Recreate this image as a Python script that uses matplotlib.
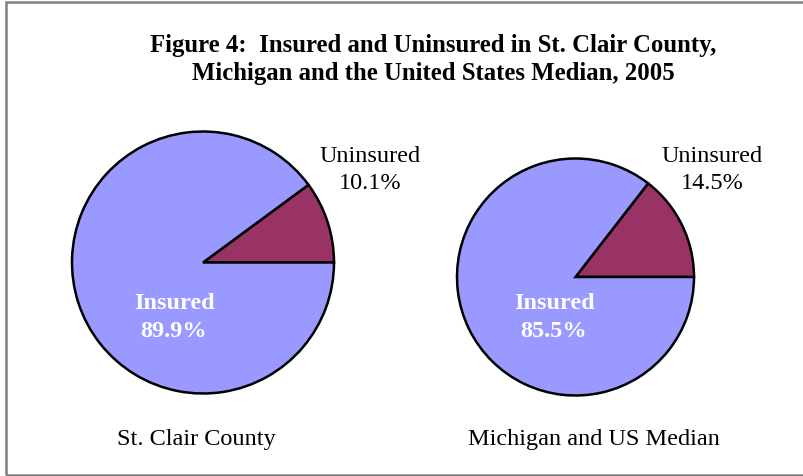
import matplotlib.pyplot as plt
from matplotlib.patches import Rectangle

# data
areas = ['St. Clair County', 'Michigan and US Median']
uninsured = [10.1, 14.5]
insured = [89.9, 85.5]
title = 'Figure 4:  Insured and Uninsured in St. Clair County,\nMichigan and the United States Median, 2005'

colors = ['#993366', '#9999FF']
W, H = 804, 476

# pixel layout: (center x, center y from top, radius)
pies = [(203, 262.5, 131), (575.5, 277, 118.5)]
unins_pos = [(370, 170), (712, 170)]
ins_pos = [(174, 317.5), (554, 317.5)]
name_pos = [(196, 440), (594, 440)]

plt.rcParams['font.family'] = ['Liberation Serif', 'DejaVu Serif']

fig = plt.figure(figsize=(W / 100, H / 100), dpi=100)
ax = fig.add_axes([0, 0, 1, 1])

for i, (cx, cy, r) in enumerate(pies):
    ax.pie([uninsured[i], insured[i]], colors=colors, startangle=0,
           counterclock=True, center=(cx, H - cy), radius=r,
           wedgeprops=dict(edgecolor='black', linewidth=1.8), frame=True)
    ux, uy = unins_pos[i]
    ax.text(ux, H - uy, 'Uninsured\n%.1f%%' % uninsured[i], ha='center', va='center',
            fontsize=17.5, linespacing=1.4)
    ix, iy = ins_pos[i]
    ax.text(ix, H - iy, 'Insured\n%.1f%%' % insured[i], ha='center', va='center',
            fontsize=17.5, fontweight='bold', color='white', linespacing=1.4)
    nx, ny = name_pos[i]
    ax.text(nx, H - ny, areas[i], ha='center', va='center', fontsize=17.5)

ax.set_xlim(0, W)
ax.set_ylim(0, H)
ax.set_aspect('equal')
ax.axis('off')

ax.text(W / 2 + 31, H - 59.5, title, ha='center', va='center', fontsize=17.8,
        fontweight='bold', linespacing=1.23)

# outer frame, right side runs off the picture
fig.patches.append(Rectangle((6, 1.5), 830, 472.5, transform=None, fill=False,
                             edgecolor='#808080', linewidth=1.8))

fig.savefig('out.png', dpi=100)
